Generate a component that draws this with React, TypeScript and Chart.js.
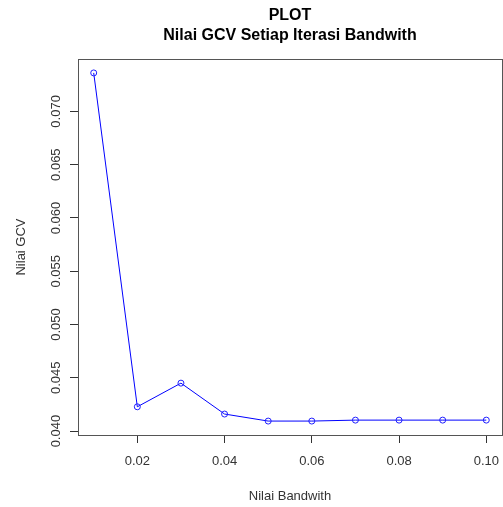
import React, { useEffect, useRef } from "react";
import { Chart, registerables } from "chart.js";

Chart.register(...registerables);

const bandwidth = [0.01, 0.02, 0.03, 0.04, 0.05, 0.06, 0.07, 0.08, 0.09, 0.10];
const gcv = [0.07361, 0.04228, 0.0445, 0.0416, 0.04094, 0.04094, 0.04103, 0.04103, 0.04103, 0.04103];
const xTicks = [0.02, 0.04, 0.06, 0.08, 0.10];
const yTicks = [0.040, 0.045, 0.050, 0.055, 0.060, 0.065, 0.070];
const titleLines = ["PLOT", "Nilai GCV Setiap Iterasi Bandwith"];
const xTitle = "Nilai Bandwith";
const yTitle = "Nilai GCV";

const FONT = "'Liberation Sans', Arial, sans-serif";

const boxPlugin = {
  id: "box",
  afterDatasetsDraw(chart: any) {
    const { ctx, chartArea } = chart;
    ctx.save();
    ctx.strokeStyle = "#555555";
    ctx.lineWidth = 1;
    ctx.strokeRect(
      Math.round(chartArea.left) + 0.5,
      Math.round(chartArea.top) + 0.5,
      Math.round(chartArea.right - chartArea.left),
      Math.round(chartArea.bottom - chartArea.top)
    );
    ctx.restore();
  },
};

export default function App() {
  const ref = useRef<HTMLCanvasElement | null>(null);
  useEffect(() => {
    if (!ref.current) return;
    const xr = bandwidth[bandwidth.length - 1] - bandwidth[0];
    const ymin = Math.min(...gcv);
    const ymax = Math.max(...gcv);
    const yr = ymax - ymin;
    const chart = new Chart(ref.current, {
      type: "line",
      data: {
        datasets: [
          {
            data: bandwidth.map((b, i) => ({ x: b, y: gcv[i] })),
            borderColor: "#0000ff",
            borderWidth: 1,
            pointRadius: 3,
            pointBorderColor: "#2020ff",
            pointBackgroundColor: "rgba(0,0,0,0)",
            pointBorderWidth: 1,
            tension: 0,
            fill: false,
          },
        ],
      },
      options: {
        responsive: false,
        animation: false,
        layout: { autoPadding: false, padding: { left: 0, right: 1, top: 0, bottom: 0 } },
        plugins: {
          legend: { display: false },
          tooltip: { enabled: false },
          title: { display: false },
        },
        scales: {
          x: {
            type: "linear",
            position: "bottom",
            min: bandwidth[0] - 0.04 * xr,
            max: bandwidth[bandwidth.length - 1] + 0.04 * xr,
            afterBuildTicks: (s: any) => {
              s.ticks = xTicks.map((v) => ({ value: v }));
            },
            afterFit: (s: any) => {
              s.height = 72;
              s.paddingRight = 0;
              s.paddingLeft = 0;
            },
            ticks: {
              maxRotation: 0,
              minRotation: 0,
              autoSkip: false,
              padding: 11,
              color: "#333333",
              font: { family: FONT, size: 13 },
              callback: (v: any) => Number(v).toFixed(2),
            },
            grid: {
              drawOnChartArea: false,
              drawTicks: true,
              tickLength: 8,
              color: "#333333",
            },
            border: { display: false },
            title: {
              display: true,
              text: xTitle,
              color: "#333333",
              font: { family: FONT, size: 13 },
              padding: { top: 0, bottom: 3 },
            },
          },
          x2: {
            type: "linear",
            position: "top",
            min: 0,
            max: 1,
            afterFit: (s: any) => {
              s.height = 59;
            },
            ticks: { display: false },
            grid: { display: false },
            border: { display: false },
            title: {
              display: true,
              text: titleLines,
              color: "#000000",
              font: { family: FONT, size: 16, weight: "bold", lineHeight: 1.25 },
              padding: { top: 6, bottom: 0 },
            },
          },
          y: {
            type: "linear",
            position: "left",
            min: ymin - 0.04 * yr,
            max: ymax + 0.04 * yr,
            afterBuildTicks: (s: any) => {
              s.ticks = yTicks.map((v) => ({ value: v }));
            },
            afterFit: (s: any) => {
              s.width = 78;
            },
            ticks: {
              minRotation: 90,
              maxRotation: 90,
              crossAlign: "center",
              autoSkip: false,
              padding: -3,
              color: "#333333",
              font: { family: FONT, size: 13 },
              callback: (v: any) => Number(v).toFixed(3),
            },
            grid: {
              drawOnChartArea: false,
              drawTicks: true,
              tickLength: 8,
              color: "#333333",
            },
            border: { display: false },
            title: {
              display: true,
              text: yTitle,
              color: "#333333",
              font: { family: FONT, size: 13 },
              padding: { top: 14, bottom: 0 },
            },
          },
        },
      },
      plugins: [boxPlugin],
    });
    return () => chart.destroy();
  }, []);
  return (
    <div style={{ position: "absolute", left: 0, top: 0, width: 503, height: 507, background: "#ffffff" }}>
      <canvas ref={ref} width={503} height={507} style={{ display: "block" }} />
    </div>
  );
}
